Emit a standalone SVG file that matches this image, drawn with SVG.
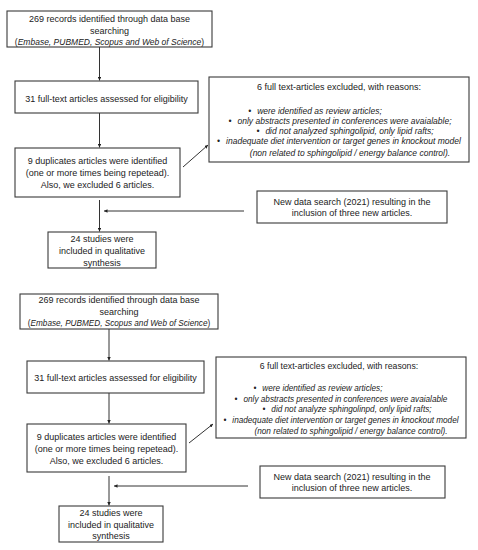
<svg xmlns="http://www.w3.org/2000/svg" width="478" height="550" viewBox="0 0 478 550">
<defs>
<marker id="ah" viewBox="0 0 10 10" refX="10" refY="5" markerWidth="3.5" markerHeight="3.5" orient="auto-start-reverse">
<path d="M0,0 L10,5 L0,10 z" fill="#222"/>
</marker>
<style>
.box{fill:#fff;stroke:#3a3a3a;stroke-width:1.1}
.t{font-family:"Liberation Sans",Arial,sans-serif;font-size:9px;fill:#222;text-anchor:middle}
.i{font-family:"Liberation Sans",Arial,sans-serif;font-size:8.5px;font-style:italic;fill:#222;text-anchor:middle}
.i2{font-size:8.2px}
.it{font-style:italic}
.c{stroke:#333;stroke-width:1;fill:none;marker-end:url(#ah)}
</style>
</defs>
<rect width="478" height="550" fill="#fff"/>

<g id="connectors">
<line class="c" x1="99.5" y1="47" x2="99.5" y2="80.5"/>
<line class="c" x1="99.5" y1="113" x2="99.5" y2="147.5"/>
<line class="c" x1="183" y1="167" x2="208" y2="145"/>
<line class="c" x1="244" y1="211" x2="104" y2="211"/>
<line class="c" x1="99.5" y1="200" x2="99.5" y2="231.5"/>

<line class="c" x1="109" y1="329" x2="109" y2="360.5"/>
<line class="c" x1="109" y1="393" x2="109" y2="423.5"/>
<line class="c" x1="189" y1="443" x2="213" y2="424"/>
<line class="c" x1="248" y1="486" x2="114" y2="486"/>
<line class="c" x1="109" y1="476" x2="109" y2="505.5"/>
</g>

<g id="records1">
<rect class="box" x="7" y="11" width="205" height="36"/>
<text class="t" x="109.5" y="21.5">269 records identified through data base</text>
<text class="t" x="109.5" y="34">searching</text>
<text class="t" x="109.5" y="45" style="font-size:8.5px">(<tspan class="it">Embase, PUBMED, Scopus and Web of Science</tspan>)</text>
</g>
<g id="fulltext1">
<rect class="box" x="15" y="81" width="183" height="32"/>
<text class="t" x="106.5" y="102">31 full-text articles assessed for eligibility</text>
</g>
<g id="duplicates1">
<rect class="box" x="15" y="148" width="165" height="49"/>
<text class="t" x="97.5" y="164">9 duplicates articles were identified</text>
<text class="t" x="97.5" y="176">(one or more times being repetead).</text>
<text class="t" x="97.5" y="187.5">Also, we excluded 6 articles.</text>
</g>
<g id="excluded1">
<rect class="box" x="209" y="77" width="260" height="85"/>
<text class="t" x="339" y="90">6 full text-articles excluded, with reasons:</text>
<text class="i" x="315" y="113.5">•<tspan dx="6">were identified as review articles;</tspan></text>
<text class="i" x="340" y="123.5">•<tspan dx="6">only abstracts presented in conferences were avaialable;</tspan></text>
<text class="i" x="345" y="133.5">•<tspan dx="6">did not analyzed sphingolipid, only lipid rafts;</tspan></text>
<text class="i" x="339" y="144">•<tspan dx="6">inadequate diet intervention or target genes in knockout model</tspan></text>
<text class="i" x="350" y="155.5">(non related to sphingolipid / energy balance control).</text>
</g>
<g id="newsearch1">
<rect class="box" x="257" y="191" width="190" height="32"/>
<text class="t" x="352" y="205">New data search (2021) resulting in the</text>
<text class="t" x="352" y="216">inclusion of three new articles.</text>
</g>
<g id="studies1">
<rect class="box" x="48" y="232" width="108" height="36"/>
<text class="t" x="102" y="242">24 studies were</text>
<text class="t" x="102" y="254">included in qualitative</text>
<text class="t" x="102" y="265.5">synthesis</text>
</g>

<g id="records2">
<rect class="box" x="20" y="294" width="198" height="35"/>
<text class="t" x="119" y="303">269 records identified through data base</text>
<text class="t" x="119" y="315">searching</text>
<text class="t" x="119" y="326" style="font-size:8.2px">(<tspan class="it">Embase, PUBMED, Scopus and Web of Science</tspan>)</text>
</g>
<g id="fulltext2">
<rect class="box" x="27" y="361" width="177" height="32"/>
<text class="t" x="115.5" y="381">31 full-text articles assessed for eligibility</text>
</g>
<g id="duplicates2">
<rect class="box" x="27" y="424" width="159" height="48"/>
<text class="t" x="106.5" y="440">9 duplicates articles were identified</text>
<text class="t" x="106.5" y="452">(one or more times being repetead).</text>
<text class="t" x="106.5" y="463.5">Also, we excluded 6 articles.</text>
</g>
<g id="excluded2">
<rect class="box" x="216" y="357" width="250" height="81"/>
<text class="t" x="339" y="369" style="font-size:8.7px">6 full text-articles excluded, with reasons:</text>
<text class="i i2" x="318" y="391">•<tspan dx="6">were identified as review articles;</tspan></text>
<text class="i i2" x="341" y="401.5">•<tspan dx="6">only abstracts presented in conferences were avaialable</tspan></text>
<text class="i i2" x="347" y="412">•<tspan dx="6">did not analyze sphingolinpd, only lipid rafts;</tspan></text>
<text class="i i2" x="341" y="423">•<tspan dx="6">inadequate diet intervention or target genes in knockout model</tspan></text>
<text class="i i2" x="351" y="433.5">(non related to sphingolipid / energy balance control).</text>
</g>
<g id="newsearch2">
<rect class="box" x="260" y="466" width="185" height="32"/>
<text class="t" x="352" y="480">New data search (2021) resulting in the</text>
<text class="t" x="352" y="490.5">inclusion of three new articles.</text>
</g>
<g id="studies2">
<rect class="box" x="59" y="506" width="104" height="36"/>
<text class="t" x="111" y="516">24 studies were</text>
<text class="t" x="111" y="527.5">included in qualitative</text>
<text class="t" x="111" y="539">synthesis</text>
</g>
</svg>
